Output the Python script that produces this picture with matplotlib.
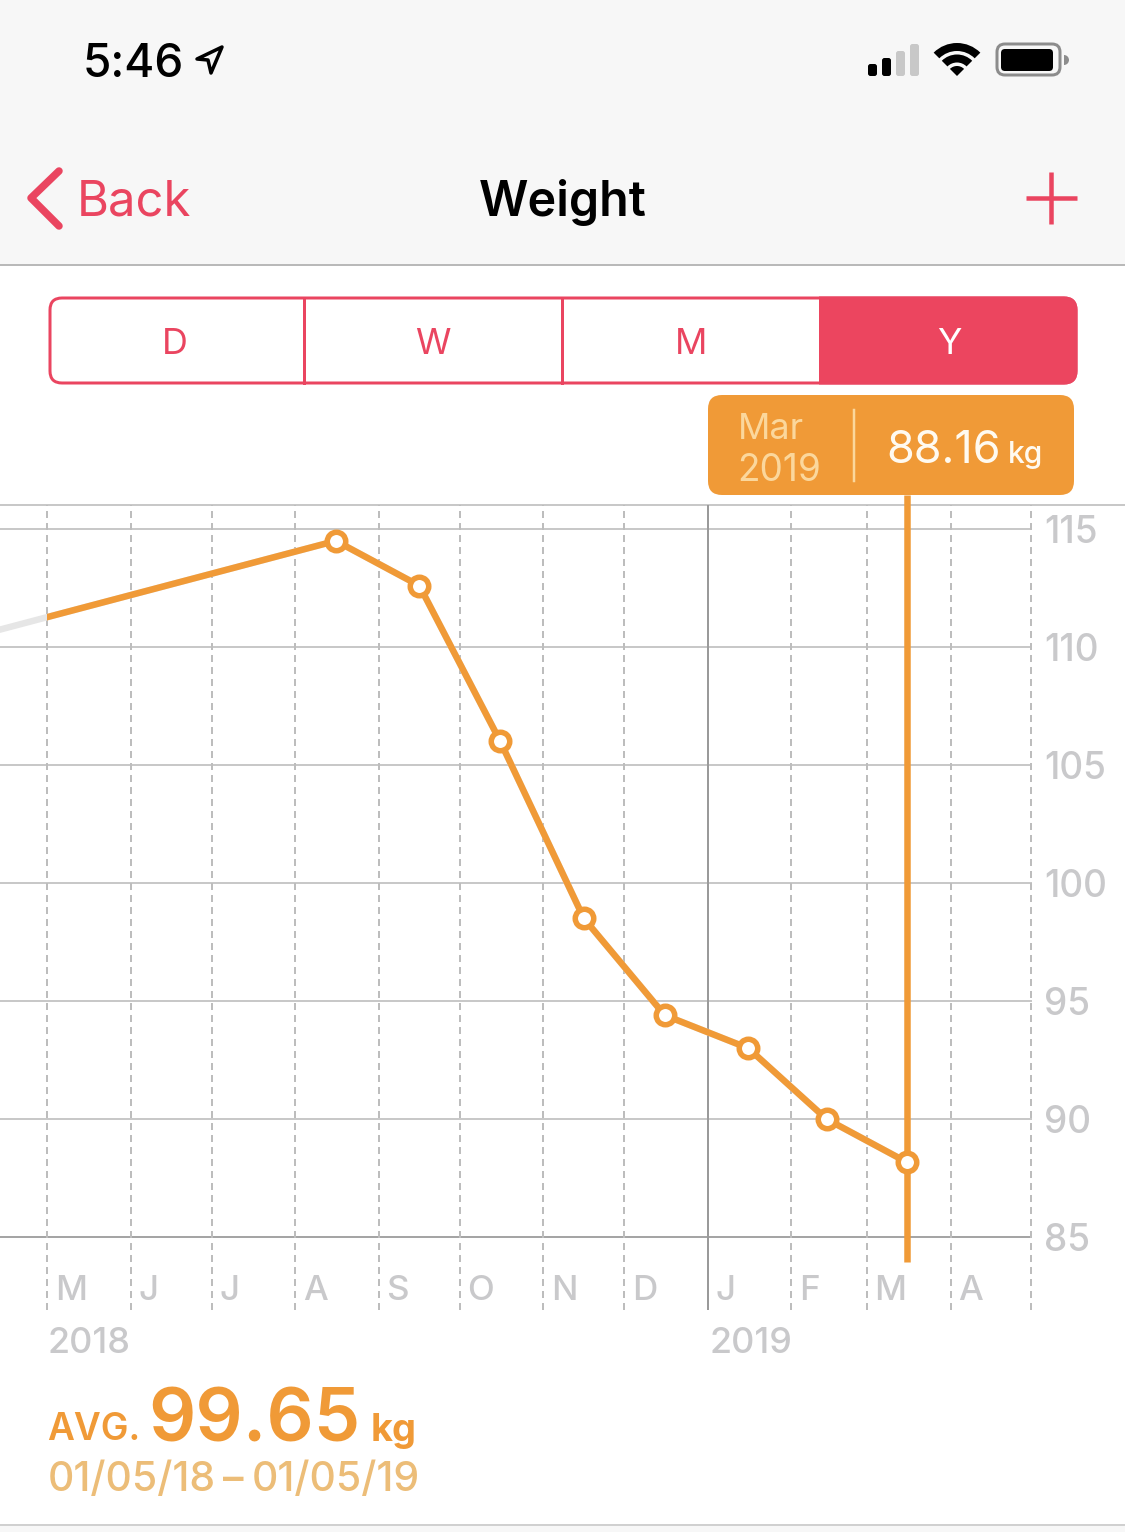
import pandas as pd
import matplotlib
matplotlib.use("Agg")
import matplotlib.dates as mdates
import matplotlib.pyplot as plt
from matplotlib.patches import FancyBboxPatch, Rectangle, Wedge, Polygon

plt.rcParams["font.family"] = ["Inter", "DejaVu Sans"]

#Chart data
dates = ["2018-01-16", "2018-08-16", "2018-09-16", "2018-10-16", "2018-11-16",
         "2018-12-16", "2019-01-16", "2019-02-14", "2019-03-16"]
weights = [108.1, 114.5, 112.6, 106.0, 98.5, 94.4, 93.0, 90.0, 88.16]
month_starts = ["2018-05-01", "2018-06-01", "2018-07-01", "2018-08-01", "2018-09-01", "2018-10-01",
                "2018-11-01", "2018-12-01", "2019-01-01", "2019-02-01", "2019-03-01", "2019-04-01"]
month_labels = ["M", "J", "J", "A", "S", "O", "N", "D", "J", "F", "M", "A"]
y_ticks = [85, 90, 95, 100, 105, 110, 115]
segments = ["D", "W", "M", "Y"]
segment_x = [175, 433, 691, 949]

#Colours
ORANGE = "#f09a37"
PINK = "#ea4560"
GREY_TEXT = "#c9c9cb"
GRID = "#c8c8c8"

W, H = 1125, 1532
fig = plt.figure(figsize=(W / 100, H / 100), dpi=100, facecolor="white")


def px(n):
    return n * 0.72


#Overlay axes in pixels, for the phone screen around the chart
ui = fig.add_axes([0, 0, 1, 1], zorder=0)
ui.set_xlim(0, W)
ui.set_ylim(H, 0)
ui.axis("off")


def label(x, y, s, size, color="black", weight="normal", ha="left"):
    ui.text(x, y, s, fontsize=px(size), color=color, fontweight=weight, ha=ha, va="baseline")


def rounded(x0, y0, x1, y1, r, **kw):
    p = FancyBboxPatch((x0 + r, y0 + r), x1 - x0 - 2 * r, y1 - y0 - 2 * r,
                       boxstyle="round,pad=%f,rounding_size=%f" % (r, r), **kw)
    ui.add_patch(p)
    return p


#Nav bar and footer backgrounds
ui.add_patch(Rectangle((0, 0), W, 265, fc="#f7f7f7", ec="none"))
ui.plot([0, W], [265, 265], color="#b9b9b9", lw=px(2))
ui.add_patch(Rectangle((0, 1525), W, 7, fc="#f7f7f7", ec="none"))
ui.plot([0, W], [1525, 1525], color="#d0d0d0", lw=px(2))

#Status bar
label(83, 77, "5:46", 46, weight="medium")
ui.add_patch(Polygon([(197, 59), (222, 47), (211, 73), (208, 60)], closed=True, fc="none", ec="black",
                     lw=px(3.5), joinstyle="round"))
for x0, top, col in zip([868, 882, 896, 910], [64, 58, 51, 44], ["black", "black", "#c8c8c8", "#c8c8c8"]):
    rounded(x0, top, x0 + 9, 76, 2.5, fc=col, ec="none")
ui.add_patch(Wedge((957, 76), 33, 225, 315, width=8, fc="black", ec="none"))
ui.add_patch(Wedge((957, 76), 21.5, 225, 315, width=8, fc="black", ec="none"))
ui.add_patch(Wedge((957, 76), 10, 225, 315, fc="black", ec="none"))
rounded(997, 44, 1060, 75, 8, fc="none", ec="#8c8c8c", lw=px(3))
rounded(1001, 49, 1053, 71, 4, fc="black", ec="none")
ui.add_patch(Wedge((1064, 60), 5, 270, 90, fc="#8c8c8c", ec="none"))

#Nav bar
ui.plot([59, 31, 59], [171, 198, 226], color=PINK, lw=px(7.5), solid_capstyle="round", solid_joinstyle="round")
label(77, 216, "Back", 49, color=PINK)
label(563, 216, "Weight", 48.5, weight="semibold", ha="center")
ui.plot([1026, 1077], [198, 198], color=PINK, lw=px(4.5), solid_capstyle="butt")
ui.plot([1051, 1051], [172, 224], color=PINK, lw=px(4.5), solid_capstyle="butt")

#Segmented control
box = rounded(50, 298, 1076, 383, 12, fc="white", ec=PINK, lw=px(3))
fill = rounded(50, 298, 1076, 383, 12, fc="#ec455f", ec=PINK, lw=px(3))
fill.set_clip_path(Rectangle((819, 280), 300, 120, transform=ui.transData))
for x in [304, 562]:
    ui.plot([x, x], [298, 383], color=PINK, lw=px(3))
for x, s in zip(segment_x, segments):
    label(x, 354, s, 36, color="white" if s == "Y" else PINK, ha="center")

#Tooltip
rounded(708, 395, 1074, 495, 14, fc=ORANGE, ec="none")
ui.plot([854, 854], [410, 481], color="#fbd79c", lw=px(2.5))
label(738, 439, "Mar", 36, color="#fbd79c")
label(737, 481, "2019", 37, color="#fbd79c")
label(886, 463, "88.16", 45, color="#fffaf0")
label(1008, 463, "kg", 30, color="#fffaf0", weight="medium")

#Text under the chart
label(47, 1353, "2018", 36, color=GREY_TEXT, weight="medium")
label(709, 1353, "2019", 36, color=GREY_TEXT, weight="medium")
label(47, 1440, "AVG.", 37, color=ORANGE, weight="semibold")
label(148, 1442, "99.65", 74, color=ORANGE, weight="semibold")
label(371, 1441, "kg", 38, color=ORANGE, weight="bold")
label(48, 1491, "01/05/18", 41, color="#ecbd78", weight="medium")
label(223, 1491, "\u2013", 41, color="#ecbd78", weight="semibold")
label(252, 1491, "01/05/19", 41, color="#ecbd78", weight="medium")

#Top rule of the chart runs the full width of the screen
ui.plot([0, W], [505, 505], color=GRID, lw=px(2))

#Chart
df = pd.DataFrame({"date": pd.to_datetime(dates), "weight": weights})
ticks = pd.to_datetime(month_starts)
range_start = ticks[0]
range_end = pd.Timestamp("2019-05-01")
selected = df.iloc[-1]

ax = fig.add_axes([0, 1 - 1310 / H, 1032 / W, 805 / H], zorder=1)
ax.patch.set_alpha(0)
ax.set_xlim(range_start - pd.Timedelta(days=17.55), range_end + pd.Timedelta(days=0.2))
ax.set_ylim(81.91, 116.02)
for side in ax.spines:
    ax.spines[side].set_visible(False)

ax.set_yticks(y_ticks)
ax.yaxis.tick_right()
ax.tick_params(axis="y", length=0, pad=9, labelsize=px(37), labelcolor=GREY_TEXT)
for t in ax.get_yticklabels():
    t.set_fontweight("medium")
ax.set_xticks([])

for v in y_ticks:
    ax.axhline(v, color="#a5a5a5" if v == 85 else GRID, lw=px(2), zorder=1)
for t in list(ticks) + [range_end]:
    if t == pd.Timestamp("2019-01-01"):
        ax.axvline(t, color="#9a9a9a", lw=px(2), zorder=1)
    else:
        ax.axvline(t, color="#bdbdbd", lw=px(2), dashes=(3.5, 2.5), zorder=1)

xform = ax.get_xaxis_transform()
for t, s in zip(ticks, month_labels):
    ax.annotate(s, (mdates.date2num(t), 0), xycoords=xform, xytext=(px(7.5), px(10)), textcoords="offset points",
                fontsize=px(35), color=GREY_TEXT, fontweight="medium", ha="left", va="baseline")

#Data outside the selected year stays grey, the year itself is orange
ax.plot(df["date"], df["weight"], color="#e6e6e6", lw=px(6.5), zorder=2, solid_capstyle="butt")
line, = ax.plot(df["date"], df["weight"], color=ORANGE, lw=px(6.5), zorder=3, solid_capstyle="butt")
year_box = Rectangle((mdates.date2num(range_start), 70),
                     mdates.date2num(range_end) - mdates.date2num(range_start), 60,
                     transform=ax.transData)
line.set_clip_path(year_box)

#Selection line goes up into the tooltip
ax.plot([selected["date"], selected["date"]], [83.94, 116.44], color=ORANGE, lw=px(6.5), zorder=3,
        clip_on=False, solid_capstyle="butt")
ax.plot(df["date"][1:], df["weight"][1:], linestyle="none", marker="o", ms=px(18.5), mfc="white",
        mec=ORANGE, mew=px(5.5), zorder=4)

fig.savefig("out.png", dpi=100)
